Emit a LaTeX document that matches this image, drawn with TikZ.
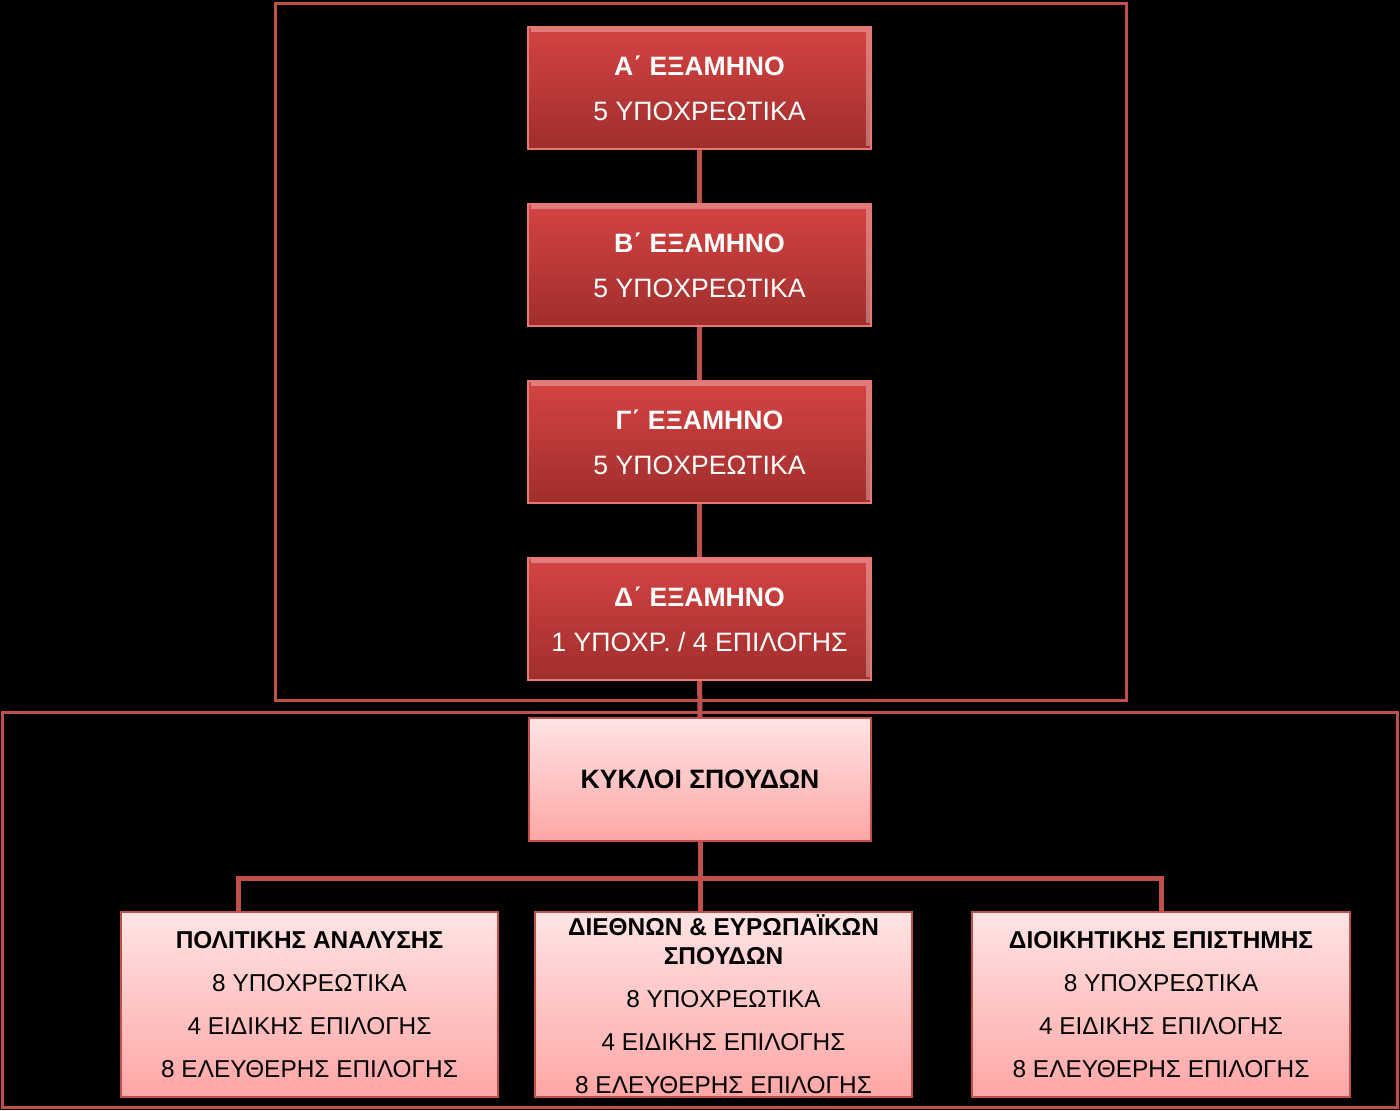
\documentclass[tikz,border=0pt]{standalone}
\usepackage{fontspec}
\setmainfont{Liberation Sans}
\usepackage{xcolor}
\usepackage{tikz}
\usetikzlibrary{positioning}

\definecolor{framered}{RGB}{192,80,77}
\definecolor{semtop}{RGB}{212,68,66}
\definecolor{sembot}{RGB}{160,46,44}
\definecolor{semedge}{RGB}{232,120,116}
\definecolor{pinktop}{RGB}{255,228,228}
\definecolor{pinkbot}{RGB}{255,166,166}

\begin{document}
\begin{tikzpicture}[
  x=0.5pt, y=-0.5pt,
  node distance=26.5pt,
  sem/.style={minimum width=171.5pt, minimum height=61pt, inner sep=0pt, top color=semtop, bottom color=sembot, draw=semedge, line width=1pt, text=white, align=center, font=\fontsize{13.3}{22.5}\selectfont,
    path picture={\draw[white, opacity=0.3, line width=2pt] ([shift={(1.5pt,-1.5pt)}]path picture bounding box.north west) -- ([shift={(-1.5pt,-1.5pt)}]path picture bounding box.north east) -- ([shift={(-1.5pt,1.5pt)}]path picture bounding box.south east);}},
  cycle/.style={minimum width=171pt, minimum height=61.5pt, inner sep=0pt, top color=pinktop, bottom color=pinkbot, draw=framered, line width=1pt, align=center, font=\bfseries\fontsize{13.3}{22.5}\selectfont},
  track/.style={minimum width=188.75pt, minimum height=92.5pt, inner sep=0pt, top color=pinktop, bottom color=pinkbot, draw=framered, line width=1pt, align=center, font=\fontsize{12.2}{21.5}\selectfont},
  frame/.style={draw=framered, line width=1.5pt},
  link/.style={draw=framered, line width=2.5pt}
]
  \fill[black] (0,0) rectangle (1400,1110);
  \useasboundingbox (0,0) rectangle (1400,1110);

  % outer frames
  \draw[frame] (275,3) rectangle (1126,700);
  \draw[frame] (2,712) rectangle (1397,1107);

  \node[sem] (semA) at (699.5,88) {\textbf{Α΄ ΕΞΑΜΗΝΟ}\\5 ΥΠΟΧΡΕΩΤΙΚΑ};
  \node[sem, below=of semA] (semB) {\textbf{Β΄ ΕΞΑΜΗΝΟ}\\5 ΥΠΟΧΡΕΩΤΙΚΑ};
  \node[sem, below=of semB] (semC) {\textbf{Γ΄ ΕΞΑΜΗΝΟ}\\5 ΥΠΟΧΡΕΩΤΙΚΑ};
  \node[sem, below=of semC] (semD) {\textbf{Δ΄ ΕΞΑΜΗΝΟ}\\1 ΥΠΟΧΡ. / 4 ΕΠΙΛΟΓΗΣ};

  \node[cycle] (cycles) at (700,779.5) {ΚΥΚΛΟΙ ΣΠΟΥΔΩΝ};

  \node[track] (policy) at (309.5,1004.5) {\textbf{ΠΟΛΙΤΙΚΗΣ ΑΝΑΛΥΣΗΣ}\\8 ΥΠΟΧΡΕΩΤΙΚΑ\\4 ΕΙΔΙΚΗΣ ΕΠΙΛΟΓΗΣ\\8 ΕΛΕΥΘΕΡΗΣ ΕΠΙΛΟΓΗΣ};
  \node[track] (intl) at (723.5,1004.5) {\textbf{ΔΙΕΘΝΩΝ \& ΕΥΡΩΠΑΪΚΩΝ}\\[-7pt]\textbf{ΣΠΟΥΔΩΝ}\\8 ΥΠΟΧΡΕΩΤΙΚΑ\\4 ΕΙΔΙΚΗΣ ΕΠΙΛΟΓΗΣ\\8 ΕΛΕΥΘΕΡΗΣ ΕΠΙΛΟΓΗΣ};
  \node[track] (admin) at (1161,1004.5) {\textbf{ΔΙΟΙΚΗΤΙΚΗΣ ΕΠΙΣΤΗΜΗΣ}\\8 ΥΠΟΧΡΕΩΤΙΚΑ\\4 ΕΙΔΙΚΗΣ ΕΠΙΛΟΓΗΣ\\8 ΕΛΕΥΘΕΡΗΣ ΕΠΙΛΟΓΗΣ};

  \draw[link] (semA) -- (semB);
  \draw[link] (semB) -- (semC);
  \draw[link] (semC) -- (semD);
  \draw[link] (semD) -- (cycles);
  \draw[link] (cycles.south) -- ++(0,36) coordinate (bar) -| ([xshift=-35.75pt]policy.north);
  \draw[link] (bar) -- ([xshift=-11.75pt]intl.north);
  \draw[link] (bar) -| (admin.north);
\end{tikzpicture}
\end{document}
